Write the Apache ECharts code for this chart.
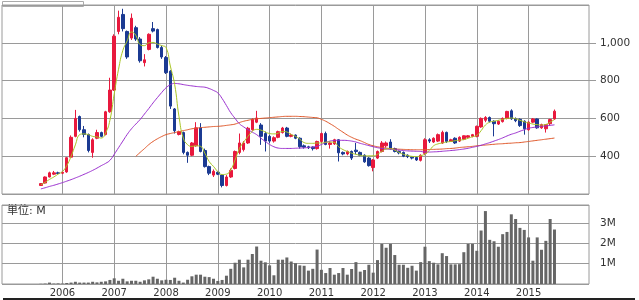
<!DOCTYPE html>
<html>
<head>
<meta charset="utf-8">
<script src="https://cdn.jsdelivr.net/npm/echarts@6/dist/echarts.min.js"></script>
<style>
  html, body { margin: 0; padding: 0; background: #fff; }
  #chart { width: 639px; height: 300px; }
</style>
</head>
<body>
<div id="chart"></div>
<script>
// months on the axis: 2004/11 .. 2016/03 (monthly candles)
const startYear = 2004, startMonth = 11, monthCount = 137;
const categories = [];
for (let i = 0; i < monthCount; i++) {
  const t = startMonth - 1 + i;
  const y = startYear + Math.floor(t / 12);
  const mo = (t % 12) + 1;
  categories.push(y + '/' + (mo < 10 ? '0' + mo : mo));
}
const firstMonth = '2005/08';

// [open, close, low, high], 2005/08 .. 2015/07
const ohlc = [
  [245, 255, 243, 258], [258, 290, 255, 293], [290, 312, 288, 318], [305, 312, 300, 322], [312, 309, 305, 318],
  // 2006
  [310, 315, 305, 320], [317, 392, 312, 395], [395, 500, 392, 510], [505, 600, 500, 645], [610, 540, 530, 615], [540, 515, 500, 560],
  [515, 430, 420, 520], [420, 487, 392, 495], [495, 525, 490, 540], [525, 505, 500, 530], [515, 635, 510, 640], [635, 750, 630, 815],
  // 2007
  [750, 1035, 745, 1045], [1060, 1135, 1045, 1170], [1150, 1075, 1060, 1180], [1060, 925, 915, 1065], [1025, 1130, 1015, 1155], [1080, 1020, 1010, 1090],
  [1020, 905, 895, 1030], [895, 910, 875, 940], [965, 1045, 960, 1050], [1075, 1062, 1055, 1110], [1070, 975, 970, 1075], [975, 925, 915, 985],
  // 2008
  [922, 842, 835, 930], [850, 665, 650, 855], [650, 535, 520, 655], [515, 530, 510, 535], [525, 420, 410, 530], [420, 405, 365, 425],
  [405, 470, 400, 475], [455, 550, 450, 580], [550, 425, 420, 575], [430, 345, 340, 440], [345, 310, 300, 350], [300, 320, 290, 330],
  // 2009
  [315, 305, 300, 320], [300, 245, 235, 305], [245, 290, 240, 300], [290, 325, 285, 335], [335, 425, 330, 430], [420, 470, 410, 520],
  [435, 470, 425, 480], [470, 548, 465, 555], [540, 595, 535, 600], [580, 602, 575, 640], [565, 505, 460, 575], [520, 480, 425, 530],
  // 2010
  [505, 480, 470, 512], [480, 498, 472, 505], [500, 530, 495, 535], [525, 549, 520, 555], [549, 505, 500, 555], [505, 512, 500, 520],
  [512, 495, 490, 515], [495, 450, 440, 500], [455, 448, 440, 462], [450, 445, 438, 455], [448, 440, 430, 452], [440, 478, 435, 482],
  // 2011
  [478, 520, 470, 525], [520, 462, 458, 530], [462, 470, 440, 478], [465, 487, 460, 492], [487, 418, 372, 490], [420, 412, 405, 425],
  [412, 425, 405, 430], [425, 390, 380, 430], [432, 425, 410, 470], [420, 405, 400, 425], [405, 370, 365, 410], [390, 350, 345, 395],
  // 2012
  [340, 380, 320, 385], [390, 425, 385, 430], [425, 470, 420, 480], [455, 470, 445, 478], [475, 440, 435, 490], [440, 425, 420, 445],
  [425, 418, 410, 430], [420, 400, 395, 425], [405, 398, 390, 410], [395, 390, 383, 400], [393, 380, 375, 396], [378, 405, 372, 410],
  // 2013
  [415, 487, 405, 495], [487, 480, 470, 495], [475, 495, 470, 500], [480, 514, 475, 520], [470, 526, 465, 535], [526, 478, 470, 530],
  [478, 487, 475, 492], [495, 470, 465, 500], [480, 500, 475, 505], [490, 508, 485, 510], [500, 508, 495, 512], [505, 514, 500, 518],
  // 2014
  [505, 558, 500, 562], [555, 600, 550, 605], [590, 605, 580, 612], [605, 585, 578, 610], [585, 572, 505, 590], [570, 585, 565, 590],
  [583, 600, 578, 605], [600, 637, 595, 640], [640, 598, 592, 648], [598, 588, 580, 605], [595, 562, 555, 600], [585, 545, 514, 590],
  // 2015
  [540, 580, 535, 585], [580, 597, 575, 602], [597, 550, 545, 600], [550, 567, 545, 572], [545, 567, 525, 570], [572, 594, 565, 598],
  [597, 638, 592, 647]
];

// moving averages as drawn on the chart, 2005/08 .. 2015/07
const maShort = [
  248, 262, 277, 290, 305,
  319, 350, 399, 460, 514, 518, 514, 505, 502, 496, 523, 590,
  730, 860, 960, 1010, 1057, 1040, 990, 985, 1000, 1002, 993, 985,
  975, 877, 780, 611, 496, 461, 452, 455, 452, 416, 372, 346,
  319, 303, 305, 328, 380, 440, 475, 505, 531, 542, 538, 528,
  520, 518, 522, 531, 528, 515, 505, 490, 472, 468, 468, 470,
  470, 474, 475, 473, 450, 435, 425, 416, 410, 405, 402, 402,
  402, 410, 425, 438, 440, 432, 420, 410, 404, 399, 398, 402,
  412, 430, 455, 465, 470, 475, 478, 482, 485, 488, 495, 503,
  510, 535, 565, 580, 585, 590, 595, 600, 602, 598, 590, 582,
  576, 570, 567, 565, 568, 580, 594
];
const maMid = [
  227, 233, 240, 246, 253,
  260, 268, 276, 285, 294, 304, 314, 325, 337, 350, 362, 378,
  410, 445, 480, 515, 545, 570, 594, 623, 652, 682, 710, 737,
  762, 778, 785, 783, 779, 775, 772, 769, 767, 765, 758, 748,
  735, 705, 668, 630, 600, 572, 555, 540, 527, 514, 495, 478,
  462, 450, 443, 441, 441, 441, 442, 443, 444, 446, 449, 452,
  462, 472, 480, 483, 484, 484, 483, 480, 475, 468, 462, 456,
  450, 445, 441, 438, 436, 434, 432, 430, 428, 427, 426, 425,
  422, 422, 423, 424, 426, 428, 430, 432, 435, 438, 442, 447,
  452, 458, 465, 472, 480, 488, 497, 507, 516, 523, 532, 540,
  548, 552, 555, 558, 560, 563, 566
];
const maLong = [
  '-', '-', '-', '-', '-',
  '-', '-', '-', '-', '-', '-', '-', '-', '-', '-', '-', '-',
  '-', '-', '-', '-', '-', 399, 420, 440, 461, 478, 492, 504,
  514, 520, 525, 530, 535, 540, 545, 548, 551, 553, 555, 557,
  558, 560, 563, 566, 570, 578, 585, 590, 595, 598, 600, 602,
  604, 606, 608, 610, 611, 611, 611, 610, 609, 607, 605, 603,
  595, 585, 572, 558, 542, 527, 512, 500, 490, 482, 472, 462,
  455, 450, 446, 443, 440, 438, 437, 436, 435, 434, 434, 434,
  434, 435, 436, 437, 438, 440, 441, 443, 446, 448, 450, 452,
  455, 457, 459, 461, 463, 465, 466, 468, 469, 471, 472, 475,
  478, 481, 484, 487, 490, 493, 496
];

// monthly volume in millions, 2005/08 .. 2015/07
const volume = [
  0.01, 0.02, 0.07, 0.02, 0.03,
  0.02, 0.05, 0.07, 0.11, 0.07, 0.07, 0.07, 0.11, 0.08, 0.11, 0.13, 0.2,
  0.28, 0.16, 0.26, 0.13, 0.16, 0.16, 0.11, 0.18, 0.23, 0.36, 0.26, 0.18,
  0.21, 0.2, 0.31, 0.16, 0.07, 0.21, 0.38, 0.46, 0.46, 0.36, 0.34, 0.26,
  0.15, 0.2, 0.41, 0.75, 1.05, 1.2, 0.82, 1.2, 1.48, 1.85, 1.15, 1.07,
  0.92, 0.43, 1.2, 1.2, 1.31, 1.11, 1.03, 0.92, 0.9, 0.66, 0.75, 1.7,
  0.7, 0.54, 0.79, 0.46, 0.54, 0.79, 0.46, 0.74, 1.08, 0.61, 0.69, 0.95,
  0.56, 1.18, 1.98, 1.79, 1.98, 1.43, 0.95, 0.95, 0.8, 0.9, 0.66, 1.08,
  1.84, 1.13, 1.05, 0.97, 1.52, 1.38, 0.97, 0.97, 0.98, 1.57, 1.98, 1.98,
  1.64, 2.64, 3.6, 2.18, 2.11, 1.84, 2.46, 2.57, 3.44, 3.21, 2.77, 2.67,
  2.3, 1.15, 2.3, 1.69, 2.13, 3.21, 2.69
];

const priceTicks = { min: 200, max: 1200, interval: 200 };
const volumeTicks = { min: 0, max: 3.9, interval: 1 };
const yearLines = [2006, 2015]; // first and last year with a grid line

const upColor = '#e8193d';
const downColor = '#1b3a92';
const gridColor = '#9a9a9a';
const font = '"DejaVu Sans", "Noto Sans CJK JP", sans-serif';

// put the series on the month axis
const lead = categories.indexOf(firstMonth);
const pad = (arr) => Array(lead).fill('-').concat(arr, Array(categories.length - lead - arr.length).fill('-'));
const candleData = pad(ohlc).map(v => (v === '-' ? ['-', '-', '-', '-'] : v));

const isYearLine = (idx, value) => {
  const y = +String(value).slice(0, 4);
  return String(value).slice(5) === '01' && y >= yearLines[0] && y <= yearLines[1];
};

const chart = echarts.init(document.getElementById('chart'));

const xBase = {
  type: 'category',
  data: categories,
  boundaryGap: false,
  axisLine: { show: false },
  axisTick: { show: false },
  splitLine: { show: true, interval: isYearLine, lineStyle: { color: gridColor, width: 1 } }
};

chart.setOption({
  animation: false,
  backgroundColor: '#fff',
  grid: [
    { left: 2, right: 50, top: 5, height: 189, show: true, borderColor: gridColor, borderWidth: 1 },
    { left: 2, right: 50, top: 205, height: 79, show: true, borderColor: gridColor, borderWidth: 1 }
  ],
  xAxis: [
    Object.assign({}, xBase, { gridIndex: 0, axisLabel: { show: false } }),
    Object.assign({}, xBase, {
      gridIndex: 1,
      axisLabel: {
        show: true,
        interval: isYearLine,
        formatter: (v) => v.slice(0, 4),
        color: '#333',
        fontFamily: font,
        fontSize: 10,
        margin: 4
      }
    })
  ],
  yAxis: [
    {
      type: 'value',
      gridIndex: 0,
      position: 'right',
      min: priceTicks.min,
      max: priceTicks.max,
      interval: priceTicks.interval,
      axisLine: { show: false },
      axisTick: { show: true, length: 7, lineStyle: { color: gridColor } },
      splitLine: { show: true, lineStyle: { color: gridColor, width: 1 } },
      axisLabel: {
        showMinLabel: false,
        showMaxLabel: false,
        color: '#333',
        fontFamily: font,
        fontSize: 10.5,
        margin: 11
      }
    },
    {
      type: 'value',
      gridIndex: 1,
      position: 'right',
      min: volumeTicks.min,
      max: volumeTicks.max,
      interval: volumeTicks.interval,
      axisLine: { show: false },
      axisTick: { show: false },
      splitLine: { show: true, lineStyle: { color: gridColor, width: 1 } },
      axisLabel: {
        showMinLabel: false,
        showMaxLabel: false,
        formatter: (v) => v + 'M',
        color: '#333',
        fontFamily: font,
        fontSize: 10.5,
        margin: 11
      }
    }
  ],
  graphic: [
    // small tab above the price panel
    { type: 'rect', left: 0, top: -1, shape: { width: 81, height: 5 }, style: { fill: 'none', stroke: '#aaa', lineWidth: 1 } },
    { type: 'text', left: 7, top: 206, style: { text: '単位: M', fill: '#333', font: '11px ' + font } },
    { type: 'rect', left: 3, top: 298, shape: { width: 632, height: 2 }, style: { fill: '#222' } }
  ],
  series: [
    {
      type: 'candlestick',
      xAxisIndex: 0,
      yAxisIndex: 0,
      data: candleData,
      barWidth: 3,
      itemStyle: {
        color: upColor,
        color0: downColor,
        borderColor: upColor,
        borderColor0: downColor,
        borderColorDoji: '#222',
        borderWidth: 1
      }
    },
    {
      type: 'line', xAxisIndex: 0, yAxisIndex: 0, data: pad(maLong),
      showSymbol: false, smooth: true, lineStyle: { color: '#e0582a', width: 1 }
    },
    {
      type: 'line', xAxisIndex: 0, yAxisIndex: 0, data: pad(maMid),
      showSymbol: false, smooth: true, lineStyle: { color: '#9b30cf', width: 1 }
    },
    {
      type: 'line', xAxisIndex: 0, yAxisIndex: 0, data: pad(maShort),
      showSymbol: false, smooth: true, lineStyle: { color: '#a9c525', width: 1 }
    },
    {
      type: 'bar',
      xAxisIndex: 1,
      yAxisIndex: 1,
      data: pad(volume),
      barWidth: 3,
      itemStyle: { color: '#666' }
    }
  ]
});
</script>
</body>
</html>
